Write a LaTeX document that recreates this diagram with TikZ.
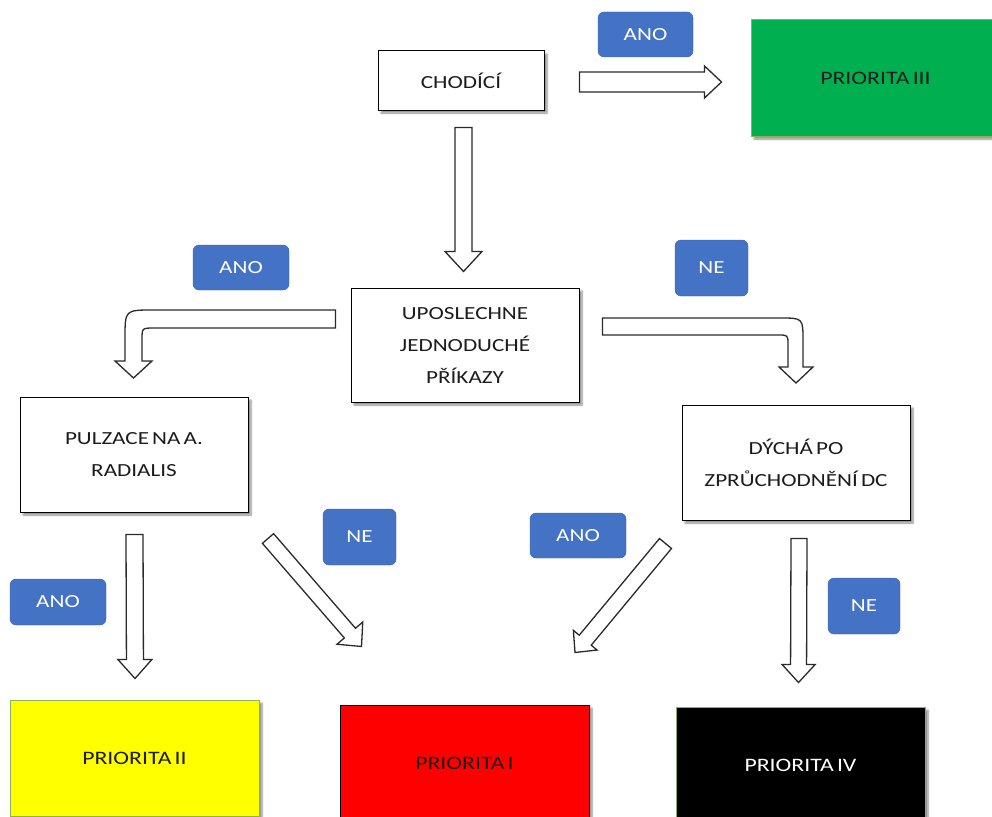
\documentclass[tikz,border=0pt]{standalone}
\usepackage{fontspec}
\setmainfont[FakeStretch=1.25, WordSpace=0.6]{Carlito}
\usetikzlibrary{calc,shadows.blur}

\definecolor{labelblue}{HTML}{4472C4}
\definecolor{prgreen}{HTML}{00B050}
\definecolor{pryellow}{HTML}{FFFF00}
\definecolor{prred}{HTML}{FF0000}
\definecolor{edgegreen}{HTML}{8DB255}
\definecolor{textgray}{HTML}{1C1C1C}
\definecolor{arrowgray}{HTML}{2A2A2A}

\tikzset{
  box/.style={draw=black, line width=1pt, fill=white, text=textgray,
    align=center, inner sep=0pt,
    font=\fontsize{18.5}{32}\selectfont,
    blur shadow={shadow xshift=3pt, shadow yshift=-3pt, shadow blur steps=6, shadow opacity=45}},
  prio/.style={box, minimum width=249pt, minimum height=116pt, font=\fontsize{19}{32}\selectfont},
  decision/.style={box, minimum width=228pt, minimum height=115pt},
  tag/.style={rounded corners=6pt, fill=labelblue, draw=labelblue!85!black, line width=0.4pt,
    text=white, inner sep=0pt, font=\fontsize{18.5}{22}\selectfont},
  arrowbody/.style={draw=arrowgray, line width=1.3pt, fill=white, line join=miter},
}

% hollow straight block arrow: tail, tip, shaft half-width, head half-width, head length
\newcommand\blockarrow[5]{%
  \coordinate (ba-b) at ($(#2)!#5!(#1)$);
  \draw[arrowbody] ($(#1)!#3!90:(#2)$) -- ($(ba-b)!#3!-90:(#1)$)
    -- ($(ba-b)!#4!-90:(#1)$) -- (#2) -- ($(ba-b)!#4!90:(#1)$)
    -- ($(ba-b)!#3!90:(#1)$) -- ($(#1)!#3!-90:(#2)$) -- cycle;
}

\begin{document}
\begin{tikzpicture}[x=1pt, y=-1pt]
\useasboundingbox (0,0) rectangle (992,816);

% decision boxes
\node[box, minimum width=166pt, minimum height=59pt] (chod) at (461,80.5) {CHODÍCÍ};
\node[box, minimum width=228pt, minimum height=114pt] (upos) at (465,345)
  {UPOSLECHNE\\JEDNODUCHÉ\\PŘÍKAZY};
\node[decision] (pulz) at (134,454.5) {PULZACE NA A.\\RADIALIS};
\node[decision] (dych) at (796,462.5) {DÝCHÁ PO\\ZPRŮCHODNĚNÍ DC};

% priority boxes
\node[prio, fill=prgreen, draw=edgegreen] (p3) at (875.5,78) {PRIORITA III};
\node[prio, fill=pryellow, draw=edgegreen] (p2) at (134.5,758) {PRIORITA II};
\node[prio, fill=prred] (p1) at (464.5,763) {PRIORITA I};
\node[prio, fill=black, draw=edgegreen, text=white] (p4) at (800.5,765) {PRIORITA IV};

% answer tags
\node[tag, minimum width=95pt, minimum height=45pt] (t1) at (645.5,34.5) {ANO};
\node[tag, minimum width=96pt, minimum height=45pt] (t2) at (241,267.5) {ANO};
\node[tag, minimum width=73pt, minimum height=56pt] (t3) at (711.5,268) {NE};
\node[tag, minimum width=73pt, minimum height=56pt] (t4) at (359.5,537) {NE};
\node[tag, minimum width=96pt, minimum height=45pt] (t5) at (578,535.5) {ANO};
\node[tag, minimum width=96pt, minimum height=46pt] (t6) at (58,602) {ANO};
\node[tag, minimum width=72pt, minimum height=56pt] (t7) at (864,606) {NE};

% straight connectors
\coordinate (a1s) at ($(chod.east)+(35,1.5)$);
\coordinate (a1e) at ($(p3.west)+(-29,4)$);
\blockarrow{a1s}{a1e}{10pt}{16pt}{17pt}

\coordinate (a2s) at ($(chod.south)+(2.5,17)$);
\coordinate (a2e) at ($(upos.north)+(-1.5,-16)$);
\blockarrow{a2s}{a2e}{8.5pt}{18.5pt}{20pt}

\coordinate (a3s) at ($(pulz.south)+(0.5,22)$);
\coordinate (a3e) at ($(p2.north)+(0.5,-21)$);
\blockarrow{a3s}{a3e}{8.5pt}{17pt}{19pt}

\coordinate (a4s) at ($(dych.south)+(3,18)$);
\coordinate (a4e) at ($(p4.north)+(-2,-24)$);
\blockarrow{a4s}{a4e}{8pt}{16.5pt}{18pt}

\coordinate (a5s) at ($(pulz.south east)+(19.5,26)$);
\coordinate (a5e) at ($(p1.north west)+(22,-58)$);
\blockarrow{a5s}{a5e}{7.4pt}{17pt}{17.7pt}

\coordinate (a6s) at ($(dych.south west)+(-16,23)$);
\coordinate (a6e) at ($(p1.north east)+(-14.5,-52)$);
\blockarrow{a6s}{a6e}{7.8pt}{15.4pt}{16pt}

% bent connectors from the middle question
\draw[arrowbody] ($(upos.west)+(-15,-35)$) -- (153,310) .. controls (125,310) .. (125,338)
  -- (125,361) -- (115,361) -- (133.5,378) -- (152,361) -- (142,361) -- (142,340)
  .. controls (142,328) .. (154,328) -- ($(upos.west)+(-15,-17)$) -- cycle;

\draw[arrowbody] ($(upos.east)+(23,-27)$) -- (780,318) .. controls (803,318) .. (803,341)
  -- (803,367) -- (813,367) -- (796,383) -- (779,367) -- (788,367) -- (788,345)
  .. controls (788,335) .. (778,335) -- ($(upos.east)+(23,-10)$) -- cycle;
\end{tikzpicture}
\end{document}
